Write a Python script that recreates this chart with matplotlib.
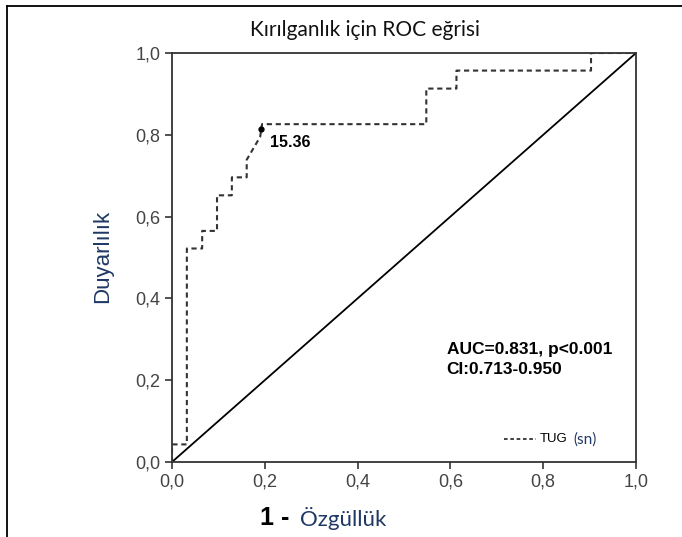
import matplotlib.pyplot as plt
from matplotlib.lines import Line2D

# ROC curve points
fpr = [0.0, 0.0, 0.032, 0.032, 0.065, 0.065, 0.097, 0.097, 0.129, 0.129,
       0.161, 0.161, 0.190, 0.194, 0.548, 0.548, 0.613, 0.613, 0.903, 0.903, 1.0]
tpr = [0.0, 0.043, 0.043, 0.522, 0.522, 0.565, 0.565, 0.652, 0.652, 0.696,
       0.696, 0.739, 0.795, 0.826, 0.826, 0.913, 0.913, 0.957, 0.957, 1.0, 1.0]
cut_x = [0.192]
cut_y = [0.815]
cut_label = "15.36"
ref_line = [0.0, 1.0]
ticks = [0.0, 0.2, 0.4, 0.6, 0.8, 1.0]
tick_labels = ["0,0", "0,2", "0,4", "0,6", "0,8", "1,0"]

navy = "#1f3864"

fig = plt.figure(figsize=(6.82, 5.37), dpi=100)
ax = fig.add_axes([0.2522, 0.1397, 0.6804, 0.7616])

# figure frame (left and top edge only)
fig.add_artist(Line2D([0.0103, 0.0103], [0, 0.989], color="black", lw=1.3, transform=fig.transFigure))
fig.add_artist(Line2D([0.0103, 1.0], [0.989, 0.989], color="black", lw=1.3, transform=fig.transFigure))

ax.plot(ref_line, ref_line, color="black", lw=1.3)
ax.plot(fpr, tpr, color="#333333", lw=1.5, linestyle=(0, (2.5, 1.8)))
ax.plot(cut_x, cut_y, "o", color="black", ms=3.5)
ax.text(0.211, 0.78, cut_label, fontsize=11.5, fontweight="bold",
        family="Liberation Sans", va="center")

ax.text(0.592, 0.274, "AUC=0.831, p<0.001", fontsize=12.5, fontweight="bold",
        family="Liberation Sans", va="center")
ax.text(0.592, 0.225, "CI:0.713-0.950", fontsize=12.5, fontweight="bold",
        family="Liberation Sans", va="center")

# legend
ax.plot([0.715, 0.785], [0.055, 0.055], color="#333333", lw=1.3,
        linestyle=(0, (2, 1.5)))
ax.text(0.793, 0.055, "TUG", fontsize=9.5, va="center", family="Liberation Sans")
ax.text(0.866, 0.055, "(sn)", fontsize=11, va="center", color=navy,
        family="Lato")

ax.set_xlim(0, 1)
ax.set_ylim(0, 1)
ax.set_xticks(ticks)
ax.set_xticklabels(tick_labels, family="Liberation Sans")
ax.set_yticks(ticks)
ax.set_yticklabels(tick_labels, family="Liberation Sans")
for s in ax.spines.values():
    s.set_color("#333333")
    s.set_linewidth(1.3)
ax.tick_params(direction="out", length=5, width=1.2, color="#333333",
               labelsize=13, labelcolor="#444444", pad=3.5)

fig.text(0.535, 0.944, "Kırılganlık için ROC eğrisi", ha="center", va="center",
         fontsize=15, family="Lato", color="#111111")
fig.text(0.151, 0.523, "Duyarlılık", rotation=90, ha="center", va="center",
         fontsize=16, family="Liberation Sans", color=navy)
fig.text(0.425, 0.035, "1 -", ha="right", va="center", fontsize=18,
         fontweight="bold", family="Liberation Sans", color="black")
fig.text(0.440, 0.035, "Özgüllük", ha="left", va="center", fontsize=16,
         family="Lato", color=navy)

fig.savefig("out.png", dpi=100)
